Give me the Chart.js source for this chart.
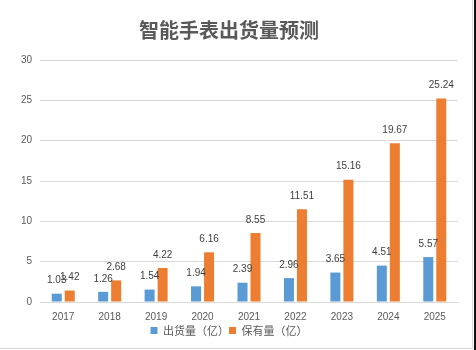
<!DOCTYPE html>
<html>
<head>
<meta charset="utf-8">
<script src="https://cdn.jsdelivr.net/npm/chart.js@4"></script>
<style>
    html, body { margin: 0; padding: 0; background: #fff; }
    #wrap { width: 476px; height: 350px; position: relative; }
</style>
</head>
<body>
<div id="wrap"><canvas id="watchChart"></canvas></div>
<script>
const years = ['2017', '2018', '2019', '2020', '2021', '2022', '2023', '2024', '2025'];
const shipments = [1.03, 1.26, 1.54, 1.94, 2.39, 2.96, 3.65, 4.51, 5.57];
const installed = [1.42, 2.68, 4.22, 6.16, 8.55, 11.51, 15.16, 19.67, 25.24];
const yMax = 30;
const yStep = 5;

const FONT = '"Liberation Sans", Arial, sans-serif';
const CJK = '"Noto Sans CJK SC", "Liberation Sans", sans-serif';

// value labels above each bar
const valueLabels = {
    id: 'valueLabels',
    afterDatasetsDraw(chart) {
        const ctx = chart.ctx;
        ctx.save();
        ctx.font = '10px ' + FONT;
        ctx.fillStyle = '#404040';
        ctx.textAlign = 'center';
        ctx.textBaseline = 'middle';
        chart.data.datasets.forEach((ds, i) => {
            chart.getDatasetMeta(i).data.forEach((bar, j) => {
                ctx.fillText(ds.data[j].toFixed(2), bar.x, bar.y - 13);
            });
        });
        ctx.restore();
    }
};

// thin frame on the right and bottom edge, like the source image
const frame = {
    id: 'frame',
    afterDraw(chart) {
        const ctx = chart.ctx;
        ctx.save();
        ctx.strokeStyle = '#d9d9d9';
        ctx.lineWidth = 1;
        ctx.beginPath();
        ctx.moveTo(472.5, 0);
        ctx.lineTo(472.5, 348.5);
        ctx.lineTo(0, 348.5);
        ctx.stroke();
        ctx.fillStyle = '#111';
        ctx.fillRect(474, 0, 2, 350);
        ctx.restore();
    }
};

const ctx = document.getElementById('watchChart').getContext('2d');
new Chart(ctx, {
    type: 'bar',
    data: {
        labels: years,
        datasets: [
            {
                label: '出货量（亿）',
                data: shipments,
                backgroundColor: '#5B9BD5',
                categoryPercentage: 0.56,
                barPercentage: 0.77
            },
            {
                label: '保有量（亿）',
                data: installed,
                backgroundColor: '#ED7D31',
                categoryPercentage: 0.56,
                barPercentage: 0.77
            }
        ]
    },
    options: {
        responsive: true,
        maintainAspectRatio: false,
        animation: false,
        layout: {
            padding: { left: 0, right: 18, top: 0, bottom: 4 }
        },
        plugins: {
            title: {
                display: true,
                text: '智能手表出货量预测',
                color: '#595959',
                font: { family: CJK, size: 20, weight: 'bold' },
                padding: { top: 18, bottom: 18 }
            },
            legend: {
                position: 'bottom',
                labels: {
                    color: '#595959',
                    font: { family: CJK, size: 11 },
                    boxWidth: 7,
                    boxHeight: 7,
                    padding: 0
                }
            },
            tooltip: { enabled: false }
        },
        scales: {
            x: {
                afterFit(scale) { scale.height = 23; },
                grid: { display: false, drawTicks: false },
                border: { color: '#d9d9d9' },
                ticks: {
                    color: '#595959',
                    font: { family: FONT, size: 10 },
                    padding: 9
                }
            },
            y: {
                min: 0,
                max: yMax,
                afterFit(scale) { scale.width = 40; },
                grid: { color: '#d9d9d9', drawTicks: false },
                border: { display: false },
                ticks: {
                    stepSize: yStep,
                    color: '#595959',
                    font: { family: FONT, size: 10 },
                    padding: 8
                }
            }
        }
    },
    plugins: [valueLabels, frame]
});
</script>
</body>
</html>
